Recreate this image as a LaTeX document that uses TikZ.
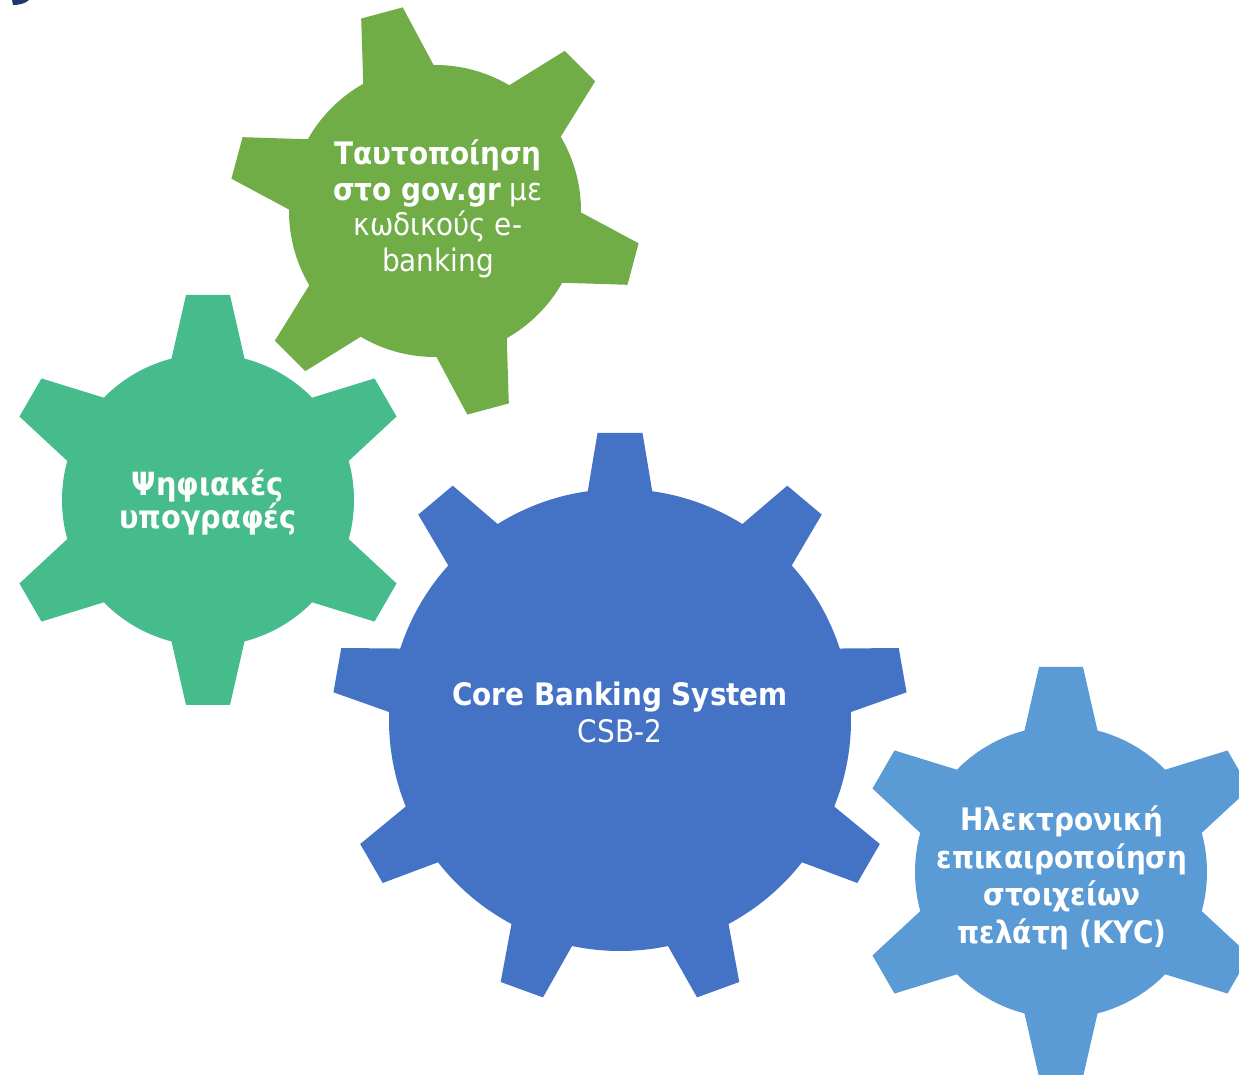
\documentclass[tikz,border=0pt]{standalone}
\usepackage{fontspec}
\setmainfont{DejaVu Sans}[FakeStretch=0.9]
\definecolor{ggreen}{RGB}{112,173,71}
\definecolor{gteal}{RGB}{70,187,140}
\definecolor{gblue}{RGB}{68,114,196}
\definecolor{glight}{RGB}{91,155,213}
\definecolor{gnavy}{RGB}{32,56,110}
% #1 colour, #2 centre, #3 teeth, #4 first angle, #5 body radius, #6 outer radius, #7 inner radius, #8 inner half width, #9 tip half width
\newcommand\drawgear[9]{%
  \fill[#1] #2 circle[radius=#5pt];
  \foreach \k in {1,...,#3}{%
    \fill[#1, shift={#2}, rotate={#4+360/#3*(\k-1)}] (#7,-#8) -- (#6,-#9) -- (#6,#9) -- (#7,#8) -- cycle;
  }%
}
\tikzset{
  lbl/.style={text=white, inner sep=0pt, align=center},
}
\begin{document}
\begin{tikzpicture}[x=1pt,y=1pt]
\useasboundingbox (0,0) rectangle (1239,1074);
\clip (0,0) rectangle (1239,1074);
\fill[gnavy] (12,1074) -- (29,1074) .. controls (25,1070) and (18,1069) .. (13,1069) -- cycle;
\drawgear{ggreen}{(435,863)}{6}{105}{146}{205}{120}{41.4}{21.5}
\drawgear{gteal}{(208,574)}{6}{90}{146}{205}{120}{41.4}{22}
\drawgear{gblue}{(620,354)}{9}{90}{231}{287}{205}{36.2}{22.5}
\drawgear{glight}{(1061,202)}{6}{90}{146}{205}{120}{41.4}{22}
\node[lbl, font=\fontsize{31}{35.5}\selectfont] (tgov) at (438,865)
  {\textbf{Ταυτοποίηση}\\\textbf{στο gov.gr} με\\κωδικούς e-\\banking};
\node[lbl, font=\fontsize{32}{33}\selectfont] (tsig) at (208,571)
  {\textbf{Ψηφιακές}\\\textbf{υπογραφές}};
\node[lbl, font=\fontsize{31}{37}\selectfont] (tcore) at (620,362)
  {\textbf{Core Banking System}\\CSB-2};
\node[lbl, font=\fontsize{31}{37.5}\selectfont] (tkyc) at (1062,196)
  {\textbf{Ηλεκτρονική}\\\textbf{επικαιροποίηση}\\\textbf{στοιχείων}\\\textbf{πελάτη (KYC)}};
\end{tikzpicture}
\end{document}
